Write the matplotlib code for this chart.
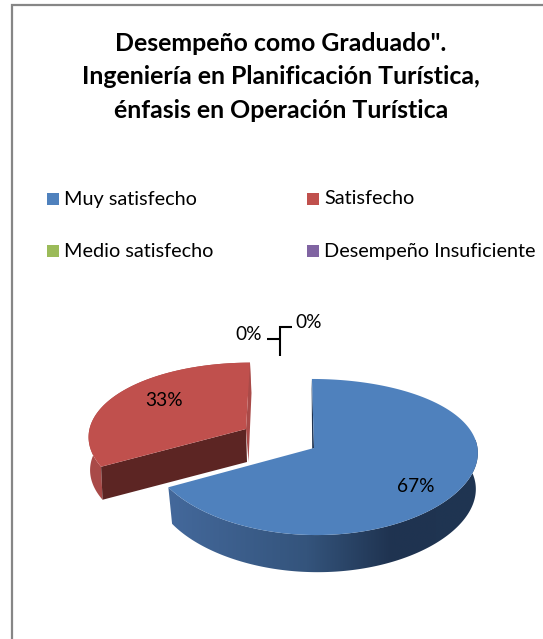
import numpy as np
import matplotlib
matplotlib.use("Agg")
import matplotlib.pyplot as plt
from matplotlib.patches import Polygon, Rectangle
from matplotlib.colors import LinearSegmentedColormap

plt.rcParams['font.family'] = ['Lato', 'DejaVu Sans']

title_lines = ['Desempeño como Graduado".', 'Ingeniería en Planificación Turística,', 'énfasis en Operación Turística']
categories = ['Muy satisfecho', 'Satisfecho', 'Medio satisfecho', 'Desempeño Insuficiente']
values = [67, 33, 0, 0]
colors = ['#4f81bd', '#c0504d', '#9bbb59', '#8064a2']

W, H = 543, 639
fig = plt.figure(figsize=(W / 100, H / 100), dpi=100, facecolor='white')
ax = fig.add_axes([0, 0, 1, 1])
ax.set_axis_off()

K = 0.1154


def rim(theta, apex, rx, ry, lean=0.0, kx=0.08):
    u, v = np.sin(theta), np.cos(theta)
    x = rx * u / (1 + kx * v)
    y = -ry * v / (1 + K * v)
    return np.column_stack([apex[0] + x - lean * y, apex[1] + y])


total = sum(values)
edges = np.concatenate([[0], np.cumsum(values)]) / total * 2 * np.pi

# --- blue slice
a0, a1 = edges[0], edges[1]
apex = (314, 448)
low = (315, 484)
th = np.linspace(a0, a1, 240)
top = rim(th, apex, 163.5, 77, -0.03, 0.05)
wall_th = np.linspace(np.pi * 0.42, a1, 200)
wall = np.vstack([rim(wall_th, apex, 163.5, 77, -0.03, 0.05), rim(wall_th, low, 160.5, 78, -0.03, 0.05)[::-1]])
wall_patch = Polygon(wall, closed=True, facecolor='none', edgecolor='none', transform=ax.transData)
ax.add_patch(wall_patch)
cmap = LinearSegmentedColormap.from_list('wall', [(0, '#44699c'), (0.45, '#34547c'), (0.72, '#1f3350'), (1, '#1f3552')])
img = ax.imshow(np.linspace(0, 1, 256)[None, :], cmap=cmap, extent=(165, 480, 580, 440), aspect='auto', zorder=1)
img.set_clip_path(wall_patch)
back = rim(np.array([a0]), apex, 163.5, 77, -0.03, 0.05)[0]
ax.add_patch(Polygon([back, apex, (apex[0] - 1.8, apex[1] + 1), (back[0] - 0.3, back[1] + 10)], closed=True,
                     facecolor='#1f3350', edgecolor='none', zorder=2))
ax.add_patch(Polygon(np.vstack([top, apex]), closed=True, facecolor=colors[0], edgecolor='none', zorder=3))

# --- red slice (exploded)
a0, a1 = edges[1], edges[2]
apex = (246, 429)
low = (247, 462)
th = np.linspace(a0, a1, 160)
rlean = 0.06
top = rim(th, apex, 156.5, 74, rlean)
low_rim = rim(th, low, 156, 74, rlean)
ax.add_patch(Polygon(np.vstack([top, low_rim[::-1]]), closed=True, facecolor='#a94a48', edgecolor='none', zorder=4))
r_back = rim(np.array([a1]), apex, 156.5, 74, rlean)[0]
ax.add_patch(Polygon([r_back, (apex[0] + 5.5, apex[1] - 36), (low[0] + 1.5, low[1]), apex], closed=True,
                     facecolor='#a94a48', edgecolor='none', zorder=4))
corner_t = rim(np.array([a0]), apex, 156.5, 74, rlean)[0]
corner_b = rim(np.array([a0]), low, 156, 74, rlean)[0]
ax.add_patch(Polygon([corner_t, apex, low, corner_b], closed=True, facecolor='#5c2523', edgecolor='none', zorder=5))
ax.add_patch(Polygon(np.vstack([top, apex]), closed=True, facecolor=colors[1], edgecolor='none', zorder=6))

# --- leader lines of the zero slices
ax.plot([267.3, 280], [339.3, 339.3], color='black', lw=1.5, solid_capstyle='butt', zorder=7)
ax.plot([280, 280, 292.3], [356, 327.3, 327.3], color='black', lw=1.5, solid_capstyle='butt', solid_joinstyle='miter', zorder=7)

# --- data labels
label_pos = [(416, 491.5), (164, 406), (249, 340), (309, 328)]
for v, (x, y) in zip(values, label_pos):
    ax.text(x, y, f'{v}%', ha='center', va='baseline', fontsize=13.8, color='black', zorder=8)

# --- title
for line, y in zip(title_lines, (51, 84.5, 118)):
    ax.text(281, y, line, ha='center', va='baseline', fontsize=17.9, fontweight='bold', color='black')

# --- legend
leg_pos = [(47, 192.5, 204.5), (307, 192.5, 204.5), (47, 245, 257), (307, 245, 257)]
for name, col, (x, y, base) in zip(categories, colors, leg_pos):
    ax.add_patch(Rectangle((x, y), 12, 12, facecolor=col, edgecolor='none'))
    ax.text(x + 17.5, base, name, ha='left', va='baseline', fontsize=14.3, color='black')

# --- chart frame
ax.plot([12, 12, W + 5], [H + 5, 5, 5], color='#868686', lw=1.6, solid_joinstyle='miter', zorder=0)

ax.set_xlim(0, W)
ax.set_ylim(H, 0)
fig.savefig('out.png', dpi=100, facecolor='white')
